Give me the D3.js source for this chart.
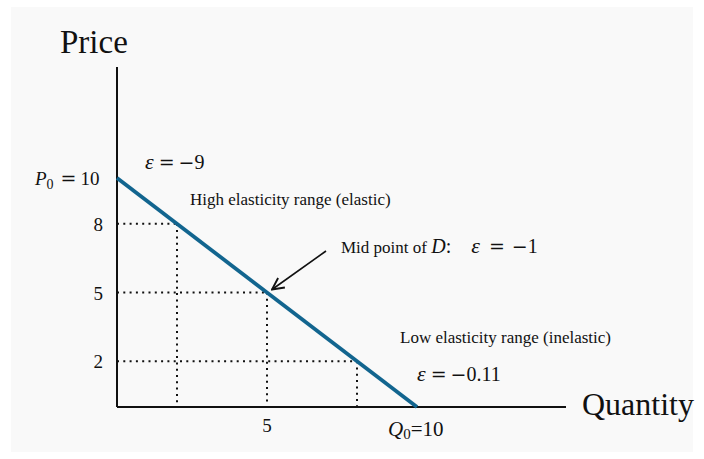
<!DOCTYPE html>
<html>
<head>
<meta charset="utf-8">
<script src="https://cdn.jsdelivr.net/npm/d3@7"></script>
<style>
  body { margin: 0; background: #fff; }
  text { font-family: "Liberation Serif", "Times New Roman", serif; fill: #111; }
  .op { font-family: "DejaVu Serif", serif; }
</style>
</head>
<body>
<svg id="chart" width="704" height="459"></svg>
<script>
// demand curve P = 10 - Q
let demandQ = [0, 10];
let demandP = [10, 0];
// dotted guide points on the curve
let guideQ = [2, 5, 8];
let guideP = [8, 5, 2];
let priceTicks = [8, 5, 2];
let qtyTicks = [5];

let svg = d3.select("#chart");
let x = d3.scaleLinear().domain([0, 10]).range([117, 417]);
let y = d3.scaleLinear().domain([0, 10]).range([407, 178]);

svg.append("rect")
  .attr("x", 11).attr("y", 7)
  .attr("width", 682).attr("height", 445)
  .attr("fill", "#f9f9f9");

svg.append("defs").append("marker")
  .attr("id", "arrow")
  .attr("viewBox", "0 0 12 12")
  .attr("refX", 11).attr("refY", 6)
  .attr("markerWidth", 14).attr("markerHeight", 14)
  .attr("markerUnits", "userSpaceOnUse")
  .attr("orient", "auto")
  .append("path")
  .attr("d", "M1,1 L11,6 L1,11")
  .attr("fill", "none")
  .attr("stroke", "#111")
  .attr("stroke-width", 1.6);

// dotted guides
guideQ.forEach((q, i) => {
  let p = guideP[i];
  svg.append("line")
    .attr("x1", x(0)).attr("x2", x(q))
    .attr("y1", y(p)).attr("y2", y(p))
    .attr("stroke", "#111").attr("stroke-width", 2)
    .attr("stroke-dasharray", "2,4.3");
  svg.append("line")
    .attr("x1", x(q)).attr("x2", x(q))
    .attr("y1", y(p)).attr("y2", y(0))
    .attr("stroke", "#111").attr("stroke-width", 2)
    .attr("stroke-dasharray", "2,4.3");
});

// axes
svg.append("line")
  .attr("x1", x(0)).attr("x2", x(0))
  .attr("y1", 67).attr("y2", y(0))
  .attr("stroke", "#111").attr("stroke-width", 2);
svg.append("line")
  .attr("x1", x(0)).attr("x2", 566)
  .attr("y1", y(0)).attr("y2", y(0))
  .attr("stroke", "#111").attr("stroke-width", 2);

// demand line
let line = d3.line().x(d => x(d[0])).y(d => y(d[1]));
svg.append("path")
  .attr("d", line(demandQ.map((q, i) => [q, demandP[i]])))
  .attr("fill", "none")
  .attr("stroke", "#12658f")
  .attr("stroke-width", 3.8);

// tick labels
priceTicks.forEach(p => {
  svg.append("text")
    .attr("x", 103).attr("y", y(p) + 7)
    .attr("text-anchor", "end")
    .attr("font-size", 19)
    .text(p);
});
qtyTicks.forEach(q => {
  svg.append("text")
    .attr("x", x(q)).attr("y", 432)
    .attr("text-anchor", "middle")
    .attr("font-size", 19)
    .text(q);
});

// axis titles
svg.append("text").attr("x", 60).attr("y", 53)
  .attr("font-size", 33).text("Price");
svg.append("text").attr("x", 582).attr("y", 415)
  .attr("font-size", 32).text("Quantity");

// small helper for math-like labels
function mathLabel(x0, y0, size, parts) {
  let t = svg.append("text").attr("x", x0).attr("y", y0)
    .attr("font-size", size);
  parts.forEach(p => {
    let s = t.append("tspan").text(p.t);
    if (p.it) s.attr("font-style", "italic");
    if (p.op) s.attr("class", "op");
    if (p.fs) s.attr("font-size", p.fs);
    if (p.dx) s.attr("dx", p.dx);
    if (p.dy) s.attr("dy", p.dy);
  });
  return t;
}

// P0 = 10
mathLabel(35, y(10) + 7, 19, [
  { t: "P", it: true },
  { t: "0", fs: 14, dy: 4 },
  { t: "=", op: true, dy: -4, dx: 7 },
  { t: "10", dx: 4 }
]);

// Q0=10
mathLabel(388, 436, 21, [
  { t: "Q", it: true },
  { t: "0", fs: 15, dy: 3 },
  { t: "=10", dy: -3 }
]);

// annotations
mathLabel(145, 169, 20, [
  { t: "ε", it: true, fs: 22 },
  { t: "=", op: true, fs: 19, dx: 5 },
  { t: "−", op: true, fs: 19, dx: 4 },
  { t: "9" }
]);
svg.append("text").attr("x", 190).attr("y", 205)
  .attr("font-size", 17).text("High elasticity range (elastic)");
mathLabel(341, 253, 17, [
  { t: "Mid point of " },
  { t: "D", it: true, fs: 20 },
  { t: ":", fs: 20 },
  { t: "ε", it: true, fs: 22, dx: 20 },
  { t: "=", op: true, fs: 19, dx: 9 },
  { t: "−", op: true, fs: 19, dx: 7 },
  { t: "1", fs: 20 }
]);
svg.append("text").attr("x", 400).attr("y", 343)
  .attr("font-size", 17).text("Low elasticity range (inelastic)");
mathLabel(417, 381, 20, [
  { t: "ε", it: true, fs: 22 },
  { t: "=", op: true, fs: 19, dx: 5 },
  { t: "−", op: true, fs: 19, dx: 4 },
  { t: "0.11" }
]);

// arrow to mid point
svg.append("line")
  .attr("x1", 326).attr("y1", 251)
  .attr("x2", x(5) + 5).attr("y2", y(5) - 3)
  .attr("stroke", "#111").attr("stroke-width", 1.6)
  .attr("marker-end", "url(#arrow)");
</script>
</body>
</html>
